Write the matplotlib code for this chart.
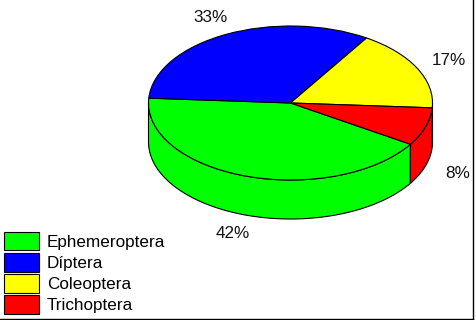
import numpy as np
import matplotlib
matplotlib.use('Agg')
import matplotlib.pyplot as plt

plt.rcParams['font.family'] = ['Liberation Sans', 'DejaVu Sans']

labels = ['Ephemeroptera', 'Díptera', 'Coleoptera', 'Trichoptera']
values = [42, 33, 17, 8]
colors = ['#00ff00', '#0000ff', '#ffff00', '#ff0000']
pct_text = ['42%', '33%', '17%', '8%']

# pixel geometry of the tilted disc
W, H = 476, 320
cx, cy = 290.5, 103
rx, ry = 142, 77
depth = 39 / ry
start = -32.4

fig = plt.figure(figsize=(W / 100, H / 100), dpi=100, facecolor='white')
ax = fig.add_axes([0, 0, 1, 1])

wedges, _ = ax.pie(values, colors=colors, startangle=start, counterclock=False,
                   wedgeprops=dict(edgecolor='black', linewidth=0.8, zorder=3))
ax.set_aspect('auto')
ax.set_xlim(-cx / rx, (W - cx) / rx)
ax.set_ylim((cy - H) / ry, cy / ry)
ax.axis('off')

# side wall, only the part that faces the viewer
a = start
for v, c in zip(values, colors):
    b = a - v * 3.6
    for shift in (0, 360):
        a1, b1 = min(a + shift, 0), max(b + shift, -180)
        if a1 > b1:
            t = np.radians(np.linspace(a1, b1, 80))
            x = np.cos(t)
            y = np.sin(t)
            ax.fill(np.r_[x, x[::-1]], np.r_[y, y[::-1] - depth], facecolor=c,
                    edgecolor='black', linewidth=0.8, zorder=2)
    a = b

# percent labels, placed by pixel
pos = [(233, 234), (211, 18), (449, 61), (458, 174)]
for s, (px, py) in zip(pct_text, pos):
    ax.text((px - cx) / rx, (cy - py) / ry, s, fontsize=12.3, ha='center', va='center', color='#111111')

leg = ax.legend(wedges, labels, loc='lower left', bbox_to_anchor=(3.5 / W, 6 / H),
                bbox_transform=fig.transFigure, frameon=False, fontsize=12.3,
                borderpad=0, borderaxespad=0, handlelength=2.1, handleheight=1.29,
                handletextpad=0.45, labelspacing=0.16)

# the frame of the picture
ax.plot([(473 - cx) / rx, (473 - cx) / rx], [cy / ry, (cy - 319) / ry], color='black', lw=1)
ax.plot([-cx / rx, (473 - cx) / rx], [(cy - 319) / ry, (cy - 319) / ry], color='black', lw=1)

fig.savefig('out.png', dpi=100)
